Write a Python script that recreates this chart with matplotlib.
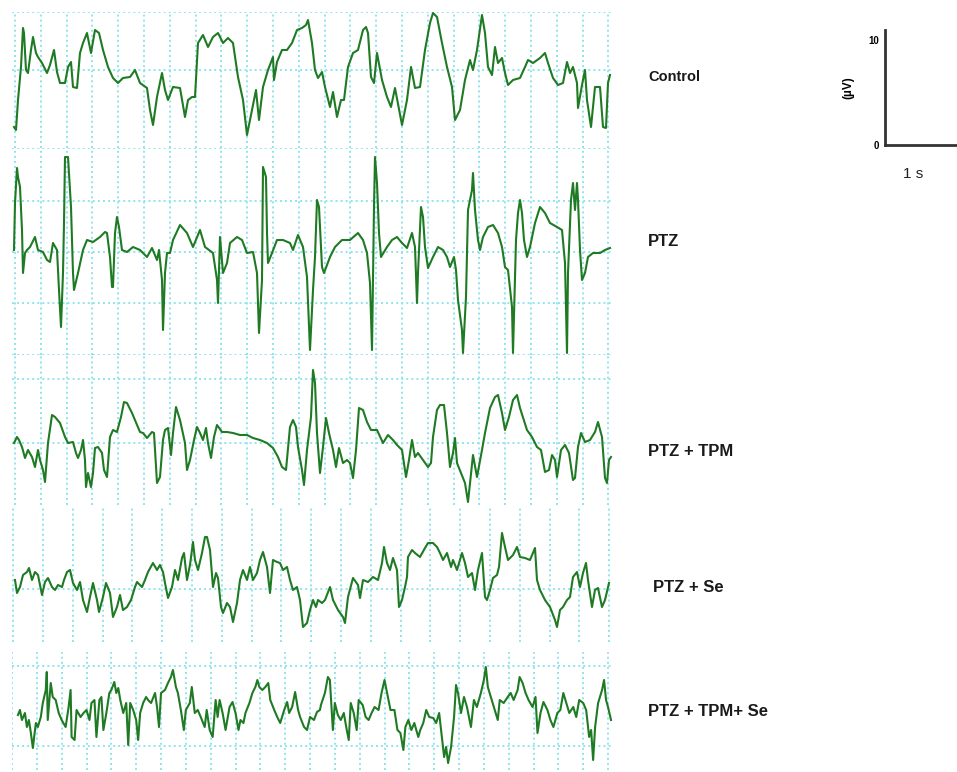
import numpy as np
import matplotlib
matplotlib.use("Agg")
import matplotlib.pyplot as plt

plt.rcParams["font.family"] = ["Liberation Sans", "DejaVu Sans"]

# EEG traces: (sample index, amplitude in uV)
CONTROL = [(0,-5.7),(2,-6.0),(4,-3.0),(7,0.3),(9,4.2),(10,3.7),(12,0.0),(14,-0.3),(17,2.0),(19,3.3),(22,1.7),(24,1.3),(28,0.7),(33,-0.3),(36,0.5),(40,2.0),(43,-0.2),(46,-1.3),(51,-1.3),(54,0.3),(57,0.8),(59,-1.7),(63,-1.8),(66,1.7),(69,2.7),(73,3.7),(77,1.7),(81,4.0),(85,3.7),(89,2.0),(94,0.3),(99,-0.8),(104,-1.3),(109,-0.8),(116,-0.7),(121,0.0),(126,-1.3),(133,-1.8),(136,-4.0),(139,-5.5),(143,-2.7),(148,-0.3),(151,-2.0),(154,-3.0),(159,-1.7),(166,-1.8),(171,-4.7),(174,-3.0),(178,-2.7),(181,-2.7),(184,2.7),(189,3.5),(194,2.3),(199,3.3),(204,3.7),(209,2.7),(214,3.2),(219,2.7),(224,-0.7),(229,-3.0),(233,-6.5),(238,-4.0),(242,-2.0),(245,-5.0),(249,-1.7),(254,0.0),(259,1.3),(260,-1.0),(263,0.8),(268,2.0),(273,2.0),(278,2.7),(283,4.0),(288,4.2),(292,4.5),(294,5.0),(298,2.7),(301,0.0),(304,-0.8),(308,-0.2),(311,-1.7),(316,-3.7),(319,-2.2),(323,-4.7),(327,-3.0),(330,-3.0),(334,0.3),(339,1.7),(344,2.0),(349,4.0),(352,4.3),(354,3.7),(357,-0.7),(360,-1.3),(363,1.7),(368,-1.0),(373,-2.7),(377,-3.7),(381,-1.8),(388,-5.5),(393,-3.0),(397,0.3),(401,-1.8),(406,-1.7),(411,2.0),(416,4.7),(419,5.7),(423,5.3),(428,2.7),(433,0.3),(438,-1.7),(441,-5.0),(446,-4.0),(451,-1.0),(456,1.0),(459,0.0),(463,2.0),(468,5.5),(471,3.7),(474,0.3),(478,-0.5),(481,2.3),(484,0.7),(488,1.2),(491,-0.3),(494,-1.5),(499,-1.0),(506,-0.8),(511,0.3),(514,1.0),(519,0.7),(526,1.2),(531,1.7),(534,0.7),(539,-0.8),(544,-1.5),(549,-1.3),(553,0.8),(556,-0.3),(559,0.3),(563,-1.3),(564,-3.8),(568,-1.5),(571,0.0),(573,-3.0),(577,-5.7),(581,-1.7),(586,-1.7),(589,-5.7),(592,-5.8),(594,-1.3),(596,-0.5)]

PTZ = [(0,0.2),(1,4.9),(3,8.4),(4,7.5),(6,6.5),(8,2.2),(9,-2.1),(11,-0.1),(13,0.2),(16,0.5),(21,1.5),(24,0.2),(29,0.0),(33,-0.8),(36,-1.0),(39,0.9),(43,0.2),(45,-3.8),(47,-7.5),(49,-2.1),(50,2.9),(51,9.5),(54,9.5),(57,4.5),(59,-2.1),(60,-3.8),(64,-2.1),(69,0.2),(73,1.2),(79,1.0),(86,1.5),(91,2.0),(93,1.9),(96,-0.5),(98,-3.5),(99,-3.5),(101,1.9),(103,3.5),(105,2.5),(108,0.2),(113,0.0),(119,0.5),(126,0.2),(133,-0.5),(138,0.4),(143,-0.8),(145,0.2),(148,-2.8),(149,-7.8),(151,-2.1),(153,-0.1),(156,-0.1),(159,1.2),(166,2.7),(173,1.9),(179,0.5),(186,2.2),(191,0.5),(199,-0.1),(203,-2.8),(204,-5.1),(206,1.5),(209,-2.1),(213,-1.1),(216,0.9),(223,1.5),(228,1.2),(233,-0.1),(239,0.0),(243,-2.1),(245,-8.1),(248,-2.8),(249,8.5),(252,7.5),(253,1.9),(254,-1.1),(258,-0.1),(263,1.2),(269,1.2),(276,0.9),(279,0.2),(284,1.7),(289,0.5),(293,-2.5),(296,-9.8),(299,-3.8),(301,-0.5),(303,5.2),(305,4.5),(308,-1.5),(310,-2.1),(316,-0.5),(321,0.5),(328,1.2),(336,1.2),(344,1.9),(349,1.2),(353,-0.1),(356,-3.1),(358,-9.8),(360,4.5),(361,9.5),(363,6.9),(365,1.9),(367,-0.5),(373,0.5),(378,1.2),(383,1.5),(388,0.9),(393,0.4),(398,1.9),(401,0.5),(403,-5.1),(404,-2.1),(407,4.5),(409,3.5),(411,0.5),(414,-1.6),(419,-0.5),(424,0.5),(429,0.2),(433,-0.5),(436,-1.5),(440,-0.5),(442,-1.8),(444,-4.8),(448,-7.8),(449,-10.1),(452,-4.5),(454,4.2),(458,6.2),(459,7.9),(461,4.2),(464,1.2),(466,0.2),(469,1.5),(474,2.5),(479,2.7),(484,1.9),(488,0.5),(491,-1.5),(494,-1.8),(498,-5.5),(499,-10.1),(502,1.2),(504,3.9),(506,5.2),(508,3.9),(510,1.2),(513,-0.5),(516,0.5),(521,2.9),(526,4.5),(531,3.9),(536,2.9),(543,2.5),(548,2.2),(551,-1.1),(553,-10.1),(554,-2.1),(557,5.2),(559,6.9),(561,4.2),(563,6.9),(564,5.2),(566,0.2),(568,-2.8),(571,-2.1),(574,-0.5),(579,-0.1),(586,-0.1),(591,0.2),(596,0.4)]

PTZ_TPM = [(0,0.0),(3,0.6),(5,0.3),(8,-0.4),(11,-1.5),(14,-0.7),(18,-1.4),(21,-2.4),(24,-0.7),(26,-1.7),(29,-2.7),(31,-3.9),(34,0.0),(38,2.8),(41,2.6),(46,2.0),(51,0.6),(54,0.0),(59,0.1),(62,-1.0),(64,-1.5),(67,-0.7),(69,0.3),(71,-1.7),(72,-4.4),(74,-3.0),(77,-4.4),(79,-3.0),(81,-0.5),(84,-0.4),(88,-1.0),(90,-2.7),(93,-3.4),(96,0.6),(99,1.3),(103,1.1),(107,2.6),(110,4.1),(113,4.0),(118,3.0),(123,1.8),(126,1.1),(129,1.0),(133,0.5),(138,1.1),(140,1.0),(143,-4.0),(146,-3.4),(149,0.3),(151,1.3),(154,1.5),(157,-1.2),(159,1.0),(162,3.6),(166,2.3),(171,0.0),(173,-2.7),(176,-1.7),(180,0.3),(183,1.6),(186,1.0),(189,0.3),(192,1.5),(194,0.0),(197,-1.5),(200,0.6),(203,1.8),(208,1.1),(213,1.1),(219,1.0),(226,0.8),(233,0.8),(239,0.5),(246,0.3),(253,0.0),(259,-0.5),(264,-1.4),(268,-2.4),(272,-2.7),(276,1.6),(279,2.3),(282,1.6),(284,-0.4),(288,-2.7),(290,-4.2),(293,-0.7),(297,2.6),(299,7.3),(301,6.0),(303,1.0),(306,-3.0),(309,-0.4),(312,2.5),(315,1.0),(319,-0.7),(322,-2.4),(325,-0.5),(329,-2.0),(333,-1.7),(336,-2.0),(339,-3.5),(342,-0.7),(345,3.5),(349,3.3),(353,2.1),(357,1.3),(363,1.3),(369,0.0),(374,0.8),(379,0.3),(383,-0.2),(388,-0.7),(392,-3.4),(395,-1.7),(398,0.3),(401,-1.4),(404,-1.0),(409,-1.7),(414,-2.4),(417,-2.0),(419,0.6),(423,3.3),(426,3.8),(430,3.8),(433,1.0),(436,-2.4),(439,-1.0),(441,0.5),(443,-2.0),(447,-3.0),(451,-4.0),(454,-5.9),(456,-4.0),(459,-1.2),(463,-3.4),(468,-0.7),(471,1.0),(476,3.5),(481,4.6),(484,4.8),(488,3.0),(491,1.3),(495,2.6),(499,4.3),(503,4.8),(506,3.5),(513,1.3),(518,0.6),(523,-0.4),(527,-0.7),(531,-2.9),(535,-2.7),(538,-1.2),(541,-1.7),(543,-3.4),(547,-0.7),(551,-0.2),(555,-1.0),(559,-3.7),(561,-3.5),(564,-0.4),(567,1.0),(571,0.1),(576,0.3),(581,1.1),(584,2.1),(588,0.6),(591,-3.5),(593,-4.0),(595,-1.7),(597,-1.4)]

PTZ_SE = [(1,0.9),(3,-0.4),(6,0.2),(9,1.4),(13,1.7),(15,2.1),(18,0.9),(21,1.7),(24,1.4),(28,-0.6),(31,0.7),(34,1.1),(38,0.2),(41,-0.1),(44,0.4),(48,0.2),(50,0.9),(53,1.7),(56,1.9),(59,0.6),(63,-0.1),(66,0.7),(69,-1.1),(73,-2.3),(76,-0.8),(79,0.6),(83,-1.1),(85,-2.3),(89,-0.8),(92,0.6),(96,-0.4),(99,-2.8),(103,-1.8),(106,-0.6),(109,-2.1),(113,-1.8),(117,-1.1),(121,0.2),(123,0.7),(128,0.2),(131,0.9),(134,1.7),(139,2.6),(143,1.9),(146,2.4),(149,1.7),(151,0.6),(154,-0.9),(158,0.2),(161,1.9),(164,0.9),(168,3.1),(170,3.6),(173,0.9),(176,2.4),(179,4.7),(181,2.9),(184,1.9),(188,3.6),(191,5.2),(193,5.2),(196,3.9),(199,0.2),(202,1.6),(204,1.1),(207,-1.8),(209,-2.4),(213,-1.4),(216,-1.8),(219,-3.3),(223,-1.4),(226,0.9),(229,1.9),(233,0.9),(236,2.2),(239,0.9),(243,1.6),(246,2.9),(249,3.7),(253,2.2),(256,-0.4),(259,2.9),(263,2.7),(266,2.6),(269,1.9),(273,2.2),(276,0.9),(279,-0.1),(283,0.2),(286,-1.1),(289,-3.8),(293,-3.4),(296,-2.1),(299,-1.1),(302,-1.8),(304,-1.1),(308,-1.4),(311,-1.1),(316,0.2),(319,-1.1),(324,-2.1),(329,-2.8),(331,-3.4),(334,-0.8),(339,1.1),(344,0.4),(346,-0.9),(349,0.9),(354,0.7),(359,1.2),(364,0.9),(368,2.6),(370,4.2),(373,2.6),(376,1.9),(379,3.1),(383,1.9),(385,-1.8),(388,-1.1),(391,0.2),(393,1.2),(394,3.2),(398,3.9),(401,3.6),(406,3.2),(411,4.1),(414,4.6),(419,4.6),(423,4.2),(426,3.6),(429,2.9),(433,3.6),(437,2.2),(439,2.9),(443,1.9),(448,3.6),(451,2.6),(454,1.2),(458,1.6),(461,-0.1),(464,1.9),(468,3.6),(471,-0.8),(473,-1.1),(476,-0.1),(479,1.1),(483,1.4),(485,2.2),(488,5.6),(491,4.2),(494,2.9),(499,3.4),(503,4.2),(506,3.2),(511,3.1),(516,2.9),(521,4.1),(523,0.9),(526,-0.1),(531,-1.1),(536,-1.8),(541,-3.1),(543,-3.8),(546,-2.1),(549,-1.8),(553,-1.1),(556,-0.8),(559,1.2),(563,1.7),(566,0.2),(569,1.6),(572,2.6),(574,0.9),(578,-1.8),(581,-0.1),(584,0.1),(588,-1.8),(591,-1.1),(595,0.6)]

PTZ_TPM_SE = [(0,-0.9),(2,-0.4),(4,-1.4),(7,-0.7),(9,-2.1),(11,-1.4),(13,-2.7),(15,-4.2),(18,-1.7),(20,-2.1),(23,-1.1),(25,0.3),(28,1.6),(29,3.4),(30,-1.4),(33,2.3),(35,0.9),(38,0.6),(41,-0.7),(44,-1.4),(48,-2.1),(51,-0.1),(53,1.6),(54,-3.1),(57,-3.4),(59,-0.4),(63,-1.1),(66,-0.7),(69,-0.4),(72,-1.4),(74,0.3),(77,0.6),(79,-3.1),(82,0.6),(84,0.9),(86,-2.4),(89,-0.7),(92,1.3),(94,1.6),(97,2.4),(99,1.3),(101,1.8),(103,0.6),(106,-0.7),(109,0.3),(111,-3.9),(113,0.3),(116,-0.4),(119,-1.4),(121,-3.4),(123,-0.7),(126,0.3),(129,0.9),(131,0.6),(134,0.3),(138,1.3),(140,-0.1),(142,-2.1),(144,1.3),(148,1.6),(151,2.3),(154,2.9),(156,3.6),(159,1.9),(161,1.3),(164,-0.4),(167,-2.4),(169,-0.4),(173,0.3),(175,1.9),(178,-0.7),(181,-0.4),(184,-1.1),(188,-2.1),(190,-0.4),(193,-2.4),(196,-3.1),(199,0.6),(201,-1.1),(203,0.6),(206,-0.7),(209,-2.4),(213,-0.1),(216,0.4),(219,-0.7),(222,-2.4),(224,-1.4),(227,-1.7),(229,-0.7),(233,0.3),(236,1.3),(239,1.9),(241,2.6),(243,1.9),(246,1.6),(249,1.9),(252,2.3),(254,0.6),(258,-0.4),(261,-1.1),(264,-1.7),(268,-0.4),(271,0.4),(273,-0.7),(276,-0.1),(279,1.4),(282,-0.4),(284,-1.1),(288,-2.1),(291,-2.4),(294,-1.1),(298,-1.4),(301,-0.6),(304,-0.4),(305,0.1),(309,1.3),(312,2.9),(314,2.6),(317,-2.4),(319,0.3),(322,-0.9),(325,-1.4),(328,-0.7),(331,-2.4),(333,-3.4),(335,0.3),(338,-0.7),(341,-2.4),(343,0.6),(347,0.1),(350,-1.1),(353,-1.4),(356,-0.7),(359,-0.1),(363,-0.4),(366,1.3),(369,2.6),(373,0.6),(375,-0.4),(379,-0.4),(382,-2.4),(385,-2.7),(388,-4.4),(390,-2.1),(393,-1.4),(396,-2.4),(399,-1.7),(403,-3.1),(405,-2.4),(408,-1.7),(411,-0.4),(414,-1.1),(418,-1.2),(421,-1.7),(424,-0.7),(427,-3.4),(429,-5.1),(431,-4.1),(433,-5.7),(436,-4.1),(439,-1.1),(441,2.1),(443,1.3),(446,-0.7),(449,0.9),(452,-0.1),(456,-2.1),(459,0.6),(462,-0.1),(466,1.3),(469,2.6),(471,3.9),(473,1.9),(476,0.9),(479,-0.1),(483,-1.4),(485,0.6),(489,0.3),(493,0.9),(496,1.3),(499,0.6),(503,1.6),(505,2.9),(508,2.3),(511,1.3),(514,0.6),(518,-0.1),(521,0.9),(523,-2.7),(526,-0.7),(529,0.4),(533,-0.4),(536,-1.4),(539,-2.1),(543,-0.7),(546,-0.4),(549,1.3),(552,0.3),(555,-0.7),(559,-0.1),(562,-1.1),(565,0.6),(569,0.3),(572,-0.4),(575,-3.1),(577,-2.4),(579,-5.4),(581,-2.1),(584,0.3),(588,1.6),(590,2.6),(592,0.6),(594,-0.1),(597,-1.4)]

LABELS = ["Control", "PTZ", "PTZ + TPM", "PTZ + Se", "PTZ + TPM+ Se"]
TRACES = [CONTROL, PTZ, PTZ_TPM, PTZ_SE, PTZ_TPM_SE]

# layout per panel, in figure pixels: top, bottom, baseline, h-grid rows,
# first v-grid column, v-grid spacing, label x, label y, label size
W, H = 957, 772
PX_PER_UV = 10.0
PANELS = [
    (12, 148, 70, [12, 70], 15, 25.8, 648, 77, 10.5),
    (148, 355, 252, [148, 201, 252, 303, 355], 15, 25.8, 648, 242, 12),
    (355, 505, 443, [379, 443], 15, 25.8, 648, 452, 12),
    (508, 642, 589, [589], 13.2, 29.8, 653, 588, 12),
    (652, 770, 706, [666, 746], 8, 25.0, 648, 711, 12),
]
X0_PX = 14          # pixel of sample 0
LEFT_PX, RIGHT_PX = 12, 612

GRID_COLOR = "#8fe4ee"
TRACE_COLOR = "#1f7a24"

fig = plt.figure(figsize=(W / 100, H / 100), dpi=100)

for trace, label, (top, bot, base, hrows, vstart, vstep, lx, ly, lsize) in zip(TRACES, LABELS, PANELS):
    ax = fig.add_axes([LEFT_PX / W, 1 - bot / H, (RIGHT_PX - LEFT_PX) / W, (bot - top) / H])
    ax.set_xlim(LEFT_PX - X0_PX, RIGHT_PX - X0_PX)
    ax.set_ylim((base - bot) / PX_PER_UV, (base - top) / PX_PER_UV)
    vcols = np.arange(vstart, RIGHT_PX, vstep) - X0_PX
    ax.set_xticks(vcols)
    ax.set_yticks([(base - r) / PX_PER_UV for r in hrows])
    ax.grid(True, color=GRID_COLOR, linestyle=(0, (1, 1.6)), linewidth=1.4)
    ax.set_axisbelow(True)
    ax.tick_params(length=0, labelbottom=False, labelleft=False)
    for s in ax.spines.values():
        s.set_visible(False)
    ax.patch.set_alpha(0)

    t, v = np.array(trace).T
    ax.plot(t, v, color=TRACE_COLOR, linewidth=1.5, clip_on=False, zorder=3)

    fig.text(lx / W, 1 - ly / H, label, fontsize=lsize, fontweight="bold",
             color="#1a1a1a", ha="left", va="center")

# calibration bar: 10 uV, 1 s
sb = fig.add_axes([885 / W, 1 - 145 / H, 75 / W, 115 / H])
sb.set_ylim(0, 11)
sb.set_xlim(0, 1)
sb.set_yticks([0, 10])
sb.set_yticklabels(["0", "10"], fontsize=7, fontweight="bold")
sb.set_xticks([])
sb.tick_params(axis="y", length=0, pad=4)
for name in ("top", "right"):
    sb.spines[name].set_visible(False)
for name in ("left", "bottom"):
    sb.spines[name].set_linewidth(2)
    sb.spines[name].set_color("#333333")
sb.patch.set_alpha(0)
sb.set_ylabel("(\u00b5V)", fontsize=8.5, fontweight="bold", labelpad=10)
sb.text(0.37, -0.25, "1 s", transform=sb.transAxes, ha="center", va="center",
        fontsize=11, color="#222222")

fig.savefig("out.png", dpi=100)
